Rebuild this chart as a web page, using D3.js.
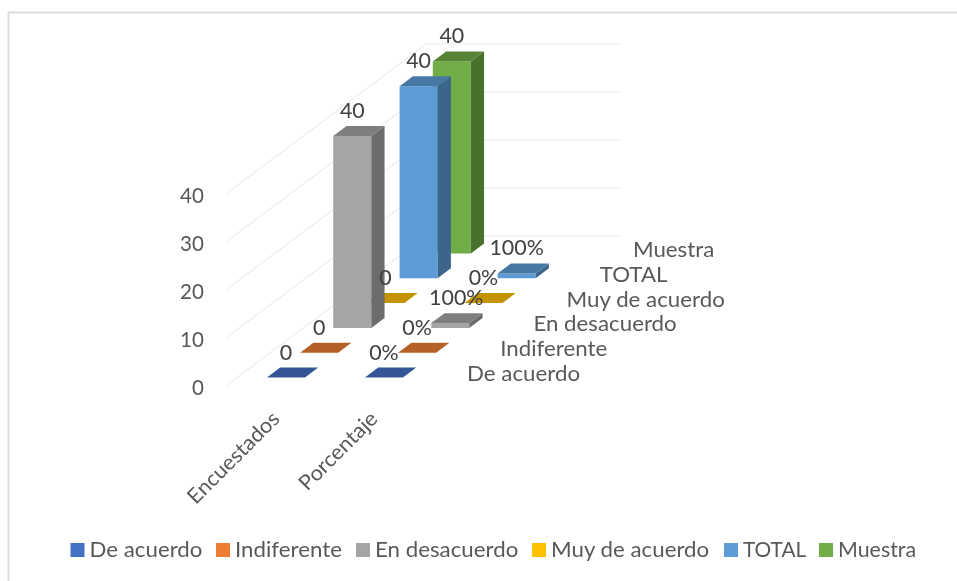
<!DOCTYPE html>
<html><head><meta charset="utf-8">
<script src="https://cdn.jsdelivr.net/npm/d3@7"></script>
<style>html,body{margin:0;background:#fff}svg{display:block}text{font-family:Lato,"Open Sans",sans-serif}</style>
</head><body><svg id="c" width="957" height="581"></svg>
<script>
const categories=["Encuestados","Porcentaje"];
const seriesNames=["De acuerdo","Indiferente","En desacuerdo","Muy de acuerdo","TOTAL","Muestra"];
const encuestados=[0,0,40,0,40,40];
const porcentaje=[0,0,1,0,1,0];
const encuestadosLabels=["0","0","40","0","40","40"];
const porcentajeLabels=["0%","0%","100%","0%","100%",""];
const valueTicks=[0,10,20,30,40];
const colors=["#4472c4","#ed7d31","#a5a5a5","#ffc000","#5b9bd5","#70ad47"];

const svg=d3.select("#c");
svg.append("defs").append("filter").attr("id","soft").append("feGaussianBlur").attr("stdDeviation",.4);
const root=svg.append("g").attr("filter","url(#soft)");
const x=d3.scaleBand().domain(categories).range([227,423]).paddingInner(.612).paddingOuter(.306);
const z=d3.scaleBand().domain(seriesNames).range([0,1]).paddingInner(.6).paddingOuter(.3);
const y=d3.scaleLinear().domain([0,40]).range([0,-192]);
const depthX=199,depthY=-149,base=385,fs=21,fk=20/21;
const P=(px,d,v)=>[px+d*depthX,base+d*depthY+y(v)];
const poly=p=>p.map(a=>a.join(",")).join(" ");
const shade=(c,k)=>d3.color(c).darker(k).formatHex();
const label=(g,tx,ty,s,k,rot)=>g.append("text")
  .attr("transform",`translate(${tx},${ty})${rot?` rotate(${rot})`:""} scale(${k*fk},1)`).text(s);

root.append("path").attr("d","M8.5,581V12.5H957").attr("fill","none").attr("stroke","#dedede").attr("stroke-width",2);

const grid=root.append("g").attr("stroke","#ececec").attr("stroke-width",1.2).attr("fill","none");
valueTicks.forEach(t=>{
  const a=P(227,0,t),b=P(227,1,t),c=P(423,1,t);
  grid.append("polyline").attr("points",poly([a,b,c]));
});

const axisG=root.append("g").attr("fill","#595959").attr("font-size",fs);
const tickG=axisG.append("g").attr("text-anchor","end");
valueTicks.forEach(t=>label(tickG,204,P(227,0,t)[1]+10,t,1.03));
const catG=axisG.append("g").attr("text-anchor","end");
categories.forEach(c=>{
  const p=P(x(c)+x.bandwidth(),0,0);
  label(catG,p[0]-14,p[1]+35,c,1.09,-45);
});
seriesNames.forEach(s=>{
  const p=P(423,z(s)+z.bandwidth()/2,0);
  label(axisG,p[0]+27.5,p[1]+8.5,s,1.115);
});

const bars=[];
categories.forEach((c,ci)=>{
  const vals=ci?porcentaje:encuestados,labs=ci?porcentajeLabels:encuestadosLabels;
  seriesNames.forEach((s,i)=>bars.push({c,s,i,v:vals[i],lab:labs[i],ci}));
});
bars.sort((a,b)=>b.i-a.i||a.ci-b.ci);
const gb=root.append("g");
bars.forEach(d=>{
  if(d.ci===1&&d.i===5) return;
  const l=x(d.c),r=l+x.bandwidth(),n=z(d.s),f=n+z.bandwidth(),col=colors[d.i];
  const g=gb.append("g");
  const top=[P(l,n,d.v),P(r,n,d.v),P(r,f,d.v),P(l,f,d.v)];
  g.append("polygon").attr("points",poly([P(l,n,0),P(r,n,0),P(r,n,d.v),P(l,n,d.v)])).attr("fill",col);
  g.append("polygon").attr("points",poly([P(r,n,0),P(r,f,0),P(r,f,d.v),P(r,n,d.v)])).attr("fill",shade(col,1.2));
  g.append("polygon").attr("points",poly(top)).attr("fill",shade(col,.75));
});
const gl=root.append("g").attr("fill","#404040").attr("font-size",fs).attr("text-anchor","middle");
bars.forEach(d=>{
  if(!d.lab) return;
  const l=x(d.c),n=z(d.s);
  const p=P(l+x.bandwidth()/2,n,d.v);
  const nudge=(d.ci===1&&d.i===2)?6:0;
  label(gl,p[0]+nudge,p[1]-18,d.lab,1.07);
});

const swatchX=[70.5,216,356,532,724,819];
const lg=root.append("g").attr("font-size",fs).attr("fill","#595959");
seriesNames.forEach((s,i)=>{
  lg.append("rect").attr("x",swatchX[i]).attr("y",543).attr("width",14).attr("height",14).attr("fill",colors[i]);
  label(lg,swatchX[i]+19,557,s,s==="TOTAL"?1.04:s==="Muestra"?1.07:1.115);
});
</script></body></html>
